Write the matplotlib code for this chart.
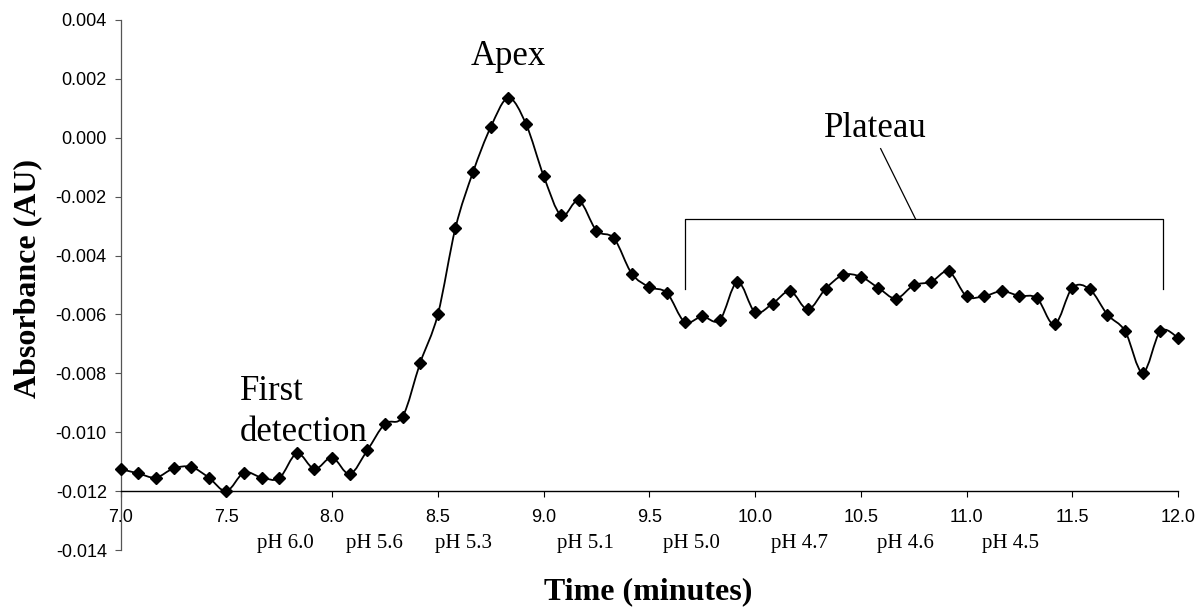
"""
Absorbance trace with pH markers, redrawn from an Excel-style chart
"""
import numpy as np
import matplotlib
matplotlib.use('Agg')
import matplotlib.pyplot as plt
from matplotlib.path import Path
from matplotlib.patches import PathPatch
from matplotlib.ticker import FormatStrFormatter, MultipleLocator

# readings every 5 s from 7.0 to 12.0 min
time_start= 7.0
time_step= 1.0/12
absorbance= [
	-0.01125, -0.01140, -0.01154, -0.01123, -0.01118, -0.01154, -0.01200, -0.01137,
	-0.01154, -0.01156, -0.01072, -0.01125, -0.01086, -0.01142, -0.01061, -0.00971,
	-0.00947, -0.00764, -0.00600, -0.00306, -0.00116, 0.00036, 0.00135, 0.00047,
	-0.00129, -0.00264, -0.00213, -0.00315, -0.00342, -0.00461, -0.00507, -0.00527,
	-0.00625, -0.00607, -0.00619, -0.00489, -0.00592, -0.00563, -0.00521, -0.00583,
	-0.00513, -0.00466, -0.00472, -0.00510, -0.00546, -0.00501, -0.00489, -0.00454,
	-0.00538, -0.00538, -0.00521, -0.00537, -0.00545, -0.00634, -0.00510, -0.00515,
	-0.00601, -0.00657, -0.00798, -0.00657, -0.00679,
]

ph_labels= ['pH 6.0', 'pH 5.6', 'pH 5.3', 'pH 5.1', 'pH 5.0', 'pH 4.7', 'pH 4.6', 'pH 4.5']
ph_times= [7.78, 8.20, 8.62, 9.20, 9.70, 10.21, 10.71, 11.21]

plateau_start= 9.667
plateau_end= 11.93


def smooth_path(x, y):
	# Excel-like smoothed line: cubic bezier through every point
	pts= np.column_stack([x, y])
	verts= [pts[0]]
	codes= [Path.MOVETO]
	n= len(pts)
	for i in range(n - 1):
		p0= pts[max(i - 1, 0)]
		p1= pts[i]
		p2= pts[i + 1]
		p3= pts[min(i + 2, n - 1)]
		verts+= [p1 + (p2 - p0)/6, p2 - (p3 - p1)/6, p2]
		codes+= [Path.CURVE4]*3
	return Path(verts, codes)


def main():
	plt.rcParams['axes.unicode_minus']= False
	serif= ['Liberation Serif', 'DejaVu Serif']
	sans= ['Liberation Sans', 'DejaVu Sans']

	times= time_start + time_step*np.arange(len(absorbance))

	fig= plt.figure(figsize=(11.97, 6.07), dpi=100)
	ax= fig.add_axes([0.1008, 0.0939, 0.8833, 0.8732])

	ax.add_patch(PathPatch(smooth_path(times, absorbance), facecolor='none',
		edgecolor='black', lw=1.3, zorder=3, clip_on=False))
	ax.plot(times, absorbance, ls='none', marker='D', ms=6.2, color='black',
		zorder=4, clip_on=False)

	ax.set_xlim(7.0, 12.0)
	ax.set_ylim(-0.014, 0.004)
	ax.xaxis.set_major_locator(MultipleLocator(0.5))
	ax.yaxis.set_major_locator(MultipleLocator(0.002))
	ax.xaxis.set_major_formatter(FormatStrFormatter('%.1f'))
	ax.yaxis.set_major_formatter(FormatStrFormatter('%.3f'))

	for side in ['top', 'right']:
		ax.spines[side].set_visible(False)
	ax.spines['bottom'].set_position(('data', -0.012))
	ax.spines['bottom'].set_linewidth(1.0)
	ax.spines['left'].set_color('#555555')
	ax.spines['left'].set_linewidth(0.9)
	ax.tick_params(axis='x', direction='out', length=4, pad=9, labelsize=13)
	ax.tick_params(axis='y', direction='out', length=4, pad=6, labelsize=13, color='#555555')
	for lab in ax.get_xticklabels() + ax.get_yticklabels():
		lab.set_family(sans)

	for label, t in zip(ph_labels, ph_times):
		ax.text(t, -0.01394, label, ha='center', va='baseline', fontsize=15,
			family=serif, clip_on=False)

	ax.set_xlabel('Time (minutes)', fontsize=23, fontweight='bold', family=serif)
	ax.xaxis.set_label_coords(0.4987, -0.079)
	ax.xaxis.label.set_va('center')
	ax.set_ylabel('Absorbance (AU)', fontsize=23, fontweight='bold', family=serif)
	ax.yaxis.set_label_coords(-0.0876, 0.513)
	ax.yaxis.label.set_va('center')

	# annotations
	peak= int(np.argmax(absorbance))
	ax.text(times[peak], 0.00248, 'Apex', ha='center', va='baseline', fontsize=25, family=serif)
	ax.text(7.563, -0.0089, 'First', ha='left', va='baseline', fontsize=25, family=serif)
	ax.text(7.563, -0.01029, 'detection', ha='left', va='baseline', fontsize=25, family=serif)
	ax.text(10.57, 0.00003, 'Plateau', ha='center', va='baseline', fontsize=25, family=serif)

	top= -0.00276
	bottom= -0.00515
	ax.plot([plateau_start, plateau_start, plateau_end, plateau_end],
		[bottom, top, top, bottom], color='black', lw=0.9)
	ax.plot([10.759, 10.594], [top, -0.00037], color='black', lw=0.9)

	fig.savefig('out.png', dpi=100)


if __name__== '__main__':
	main()
